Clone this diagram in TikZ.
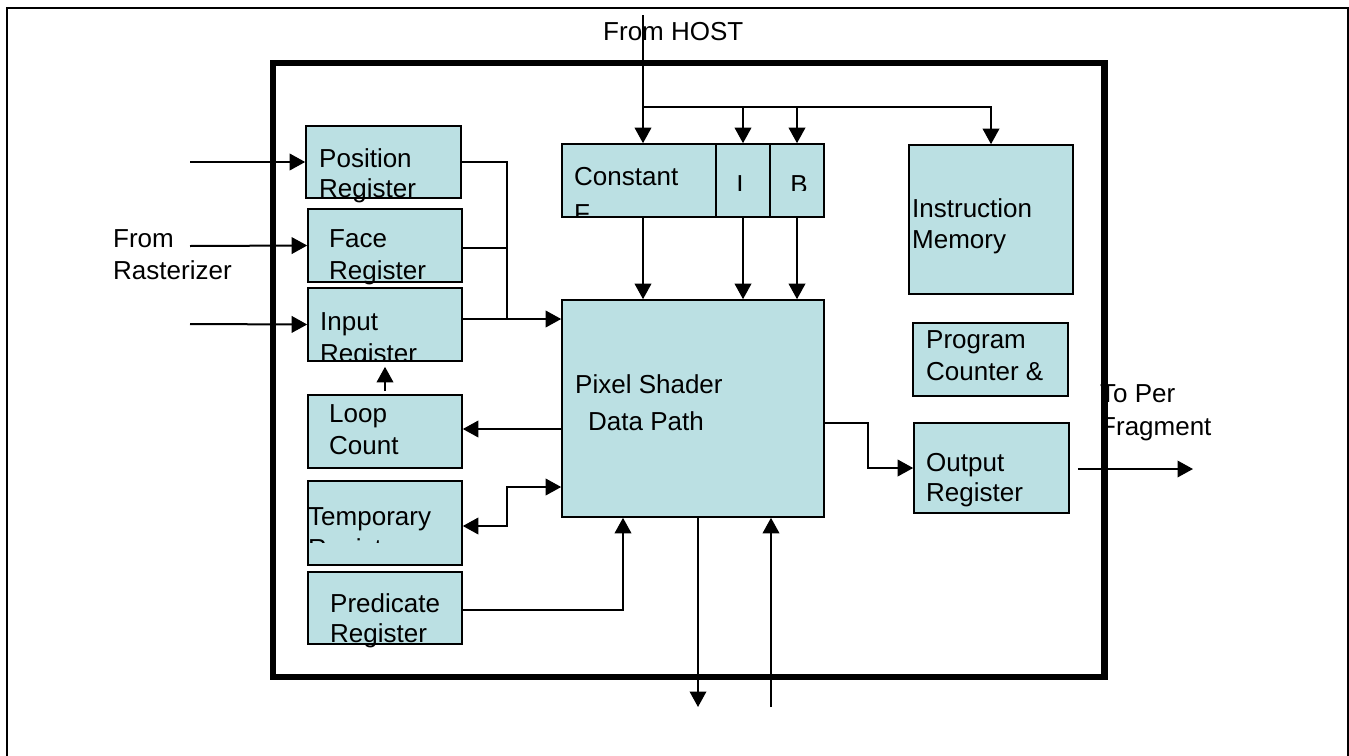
\documentclass[tikz,border=0pt]{standalone}
\usepackage{fontspec}
\setmainfont{Liberation Sans}
\usetikzlibrary{arrows.meta}
\definecolor{boxfill}{RGB}{187,224,227}
\tikzset{
  blk/.style={draw=black, fill=boxfill, line width=1.6pt, inner sep=0pt},
  lbl/.style={anchor=base west, inner sep=0pt, font=\fontsize{26}{30}\selectfont},
  lblc/.style={anchor=base, inner sep=0pt, font=\fontsize{26}{30}\selectfont},
  conn/.style={line width=2pt},
  arr/.style={conn, -{Triangle[width=16.5pt,length=15.5pt]}},
  arrs/.style={conn, {Triangle[width=16.5pt,length=15.5pt]}-{Triangle[width=16.5pt,length=15.5pt]}}
}
\begin{document}
\begin{tikzpicture}[x=1pt,y=-1pt]
\useasboundingbox (0,0) rectangle (1349,755);
% outer frame (bottom edge outside the picture)
\draw[line width=2pt] (6.5,760) -- (6.5,7.5) -- (1347.5,7.5) -- (1347.5,760);
% thick chip outline
\draw[line width=6.5pt] (273,63) rectangle (1104.5,677);

% boxes
\node[blk, minimum width=155, minimum height=72] (pos)  at (383.5,162) {};
\node[blk, minimum width=154, minimum height=73] (face) at (385,245.5) {};
\node[blk, minimum width=154, minimum height=73] (inp)  at (385,324.5) {};
\node[blk, minimum width=154, minimum height=73] (loop) at (385,431.5) {};
\node[blk, minimum width=154, minimum height=84] (temp) at (385,523) {};
\node[blk, minimum width=154, minimum height=72] (pred) at (385,608) {};
\node[blk, minimum width=154, minimum height=73] (const) at (639,180.5) {};
\node[blk, minimum width=54, minimum height=73] (ireg) at (743,180.5) {};
\node[blk, minimum width=54, minimum height=73] (breg) at (797,180.5) {};
\node[blk, minimum width=262, minimum height=217] (ps) at (693,408.5) {};
\node[blk, minimum width=164, minimum height=149] (imem) at (991,219.5) {};
\node[blk, minimum width=155, minimum height=73] (pc) at (990.5,359.5) {};
\node[blk, minimum width=155, minimum height=90] (out) at (991.5,468) {};

% texts
\node[lbl] (tHost) at (603,40) {From HOST};
\node[lbl] (tFrom) at (113,247) {From};
\node[lbl] (tRast) at (113,279) {Rasterizer};
\node[lbl] (tToPer) at (1100,402) {To Per};
\node[lbl] (tFrag) at (1100,435) {Fragment};

\node[lbl] (tPos1) at (319,167) {Position};
\node[lbl] (tPos2) at (319,197) {Register};
\node[lbl] (tFace1) at (329,247) {Face};
\node[lbl] (tFace2) at (329,279) {Register};
\node[lbl] (tInp1) at (320,330) {Input};
\begin{scope}
  \clip (300,280) rectangle (470,361);
  \node[lbl] (tInp2) at (320,362) {Register};
\end{scope}
\node[lbl] (tLoop1) at (329,422) {Loop};
\node[lbl] (tLoop2) at (329,454) {Count};
\node[lbl] (tTemp1) at (308,525) {Temporary};
\begin{scope}
  \clip (300,530) rectangle (470,542);
  \node[lbl] (tTemp2) at (308,557) {Register};
\end{scope}
\node[lbl] (tPred1) at (330,612) {Predicate};
\node[lbl] (tPred2) at (330,642) {Register};
\node[lbl] (tConst) at (574,185) {Constant};
\begin{scope}
  \clip (565,190) rectangle (712,217);
  \node[lbl] (tF) at (574,222) {F};
\end{scope}
\begin{scope}
  \clip (718,150) rectangle (822,190);
  \node[lblc] (tI) at (740,193) {I};
  \node[lblc] (tB) at (799,193) {B};
\end{scope}
\node[lbl] (tIm1) at (912,217) {Instruction};
\node[lbl] (tIm2) at (912,248) {Memory};
\node[lbl] (tPc1) at (926,348) {Program};
\node[lbl] (tPc2) at (926,380) {Counter \&};
\node[lbl] (tOut1) at (926,471) {Output};
\node[lbl] (tOut2) at (926,501) {Register};
\node[lbl] (tPs1) at (575,393) {Pixel Shader};
\node[lbl] (tPs2) at (588,430) {Data Path};

% coordinates
\coordinate (hostTop) at (643,15);
\coordinate (hb) at (643,107);
\coordinate (in1) at (190,162);
\coordinate (in2) at (190,246);
\coordinate (in3) at (190,324);
\coordinate (bus) at (507,319);
\coordinate (tj) at (507,487);
\coordinate (pj) at (623,610);
\coordinate (oj) at (868,423);
\coordinate (fragOut) at (1193,469);
\coordinate (b1) at (698,707);
\coordinate (b2) at (771,707);

% host bus
\draw[arr] (hostTop) -- (hostTop |- const.north);
\draw[arr] (hb) -| (imem.north);
\draw[arr] (ireg.north |- hb) -- (ireg.north);
\draw[arr] (breg.north |- hb) -- (breg.north);
% constants to data path
\draw[arr] (hostTop |- const.south) -- (hostTop |- ps.north);
\draw[arr] (ireg.south) -- (ireg.south |- ps.north);
\draw[arr] (breg.south) -- (breg.south |- ps.north);
% rasterizer inputs
\draw[arr] (in1) -- (pos.west);
\draw[arr] (in2) -- (face.west);
\draw[arr] (in3) -- (inp.west);
% merge into data path
\draw[conn] (pos.east) -| (bus);
\draw[conn] (face.east |- 0,248) -- (bus |- 0,248);
\draw[arr] (inp.east |- bus) -- (ps.west |- bus);
% loop count
\draw[arr, shorten <=3pt, shorten >=5pt] (loop.north) -- (inp.south);
\draw[arr] (ps.west |- 0,429) -- (loop.east |- 0,429);
% temporary
\draw[arrs] (temp.east |- 0,526) -| (tj) -- (ps.west |- tj);
% predicate
\draw[arr] (pred.east |- pj) -| (ps.south -| pj);
% output
\draw[arr] (ps.east |- oj) -- (oj) |- (out.west);
\draw[arr, shorten <=8pt] (out.east |- fragOut) -- (fragOut);
% bottom
\draw[arr] (ps.south -| b1) -- (b1);
\draw[arr] (b2) -- (ps.south -| b2);
\end{tikzpicture}
\end{document}
